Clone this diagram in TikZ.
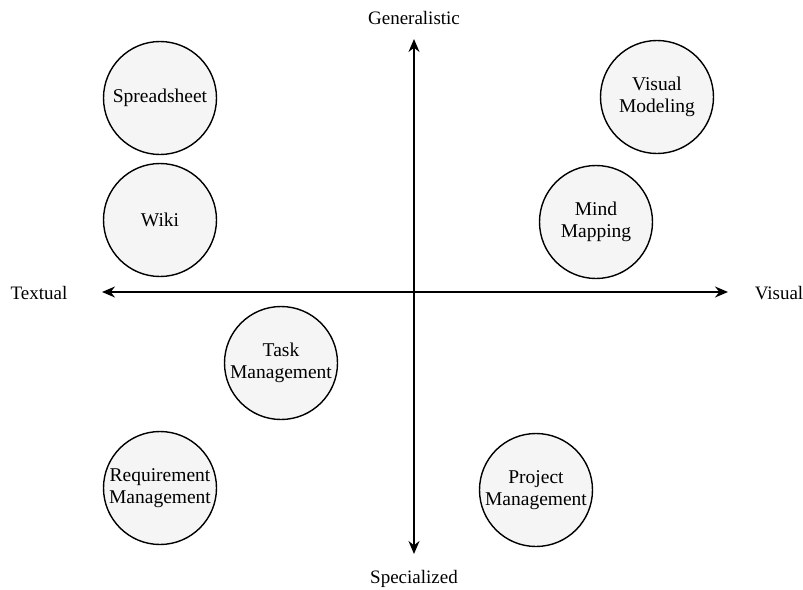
\documentclass[tikz,border=0pt]{standalone}
\usepackage{fontspec}
\setmainfont{Liberation Serif}
\usetikzlibrary{arrows.meta}
\begin{document}
\begin{tikzpicture}[x=1pt,y=-1pt,
  tool/.style={circle,draw=black,line width=1.4pt,fill=black!4,minimum size=113pt,
    inner sep=0pt,align=center,font=\fontsize{19.5}{22}\selectfont},
  axislabel/.style={font=\fontsize{19}{22}\selectfont,inner sep=0pt},
  axis/.style={line width=1.4pt,{Stealth[length=13pt,width=11pt]}-{Stealth[length=13pt,width=11pt]}}]
\useasboundingbox (0,0) rectangle (803,589);

% quadrant axes
\coordinate (top) at (414,39);
\coordinate (bottom) at (414,554);
\coordinate (left) at (102,292);
\coordinate (right) at (728,292);
\draw[axis] (left) -- (right);
\draw[axis] (top) -- (bottom);

% axis labels
\node[axislabel] (gen) at (414,18) {Generalistic};
\node[axislabel] (spec) at (414,579) {Specialized};
\node[axislabel] (txt) at (39,293) {Textual};
\node[axislabel] (vis) at (779,293) {Visual};

% tools
\node[tool] (sheet) at (160,98) {Spreadsheet};
\node[tool] (wiki) at (160,220) {Wiki};
\node[tool] (vm) at (657,97) {Visual\\Modeling};
\node[tool] (mm) at (596,222) {Mind\\Mapping};
\node[tool] (task) at (281,363) {Task\\Management};
\node[tool] (req) at (160,488) {Requirement\\Management};
\node[tool] (proj) at (536,490) {Project\\Management};
\end{tikzpicture}
\end{document}
